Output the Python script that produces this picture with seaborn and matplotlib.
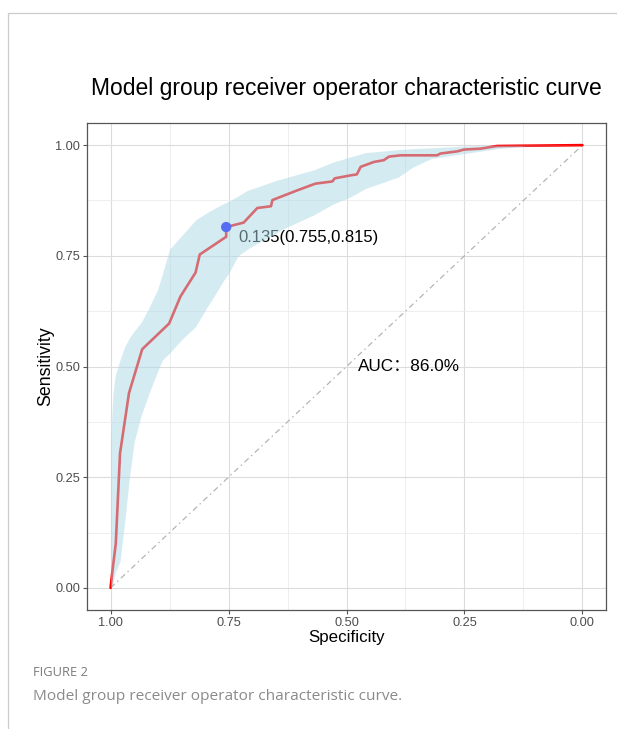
import numpy as np
import pandas as pd
import matplotlib
matplotlib.use("Agg")
import matplotlib.pyplot as plt
from matplotlib.lines import Line2D
from matplotlib.ticker import MultipleLocator
import seaborn as sns

# ---- data ----
roc_specificity = [1.0, 0.995, 0.989, 0.980, 0.961, 0.933, 0.876, 0.852, 0.820, 0.811,
                   0.755, 0.755, 0.718, 0.689, 0.660, 0.657, 0.604, 0.566, 0.530, 0.525,
                   0.490, 0.478, 0.470, 0.442, 0.421, 0.410, 0.386, 0.308, 0.301, 0.265,
                   0.251, 0.216, 0.181, 0.0]
roc_sensitivity = [0.0, 0.048, 0.100, 0.304, 0.440, 0.539, 0.597, 0.658, 0.712, 0.753,
                   0.793, 0.815, 0.825, 0.858, 0.862, 0.876, 0.898, 0.913, 0.918, 0.925,
                   0.932, 0.934, 0.951, 0.962, 0.966, 0.974, 0.977, 0.977, 0.981, 0.986,
                   0.990, 0.992, 0.998, 1.0]

ci_specificity = [1.0, 0.995, 0.99, 0.98, 0.97, 0.96, 0.95, 0.935, 0.92, 0.90, 0.89,
                  0.875, 0.85, 0.82, 0.795, 0.78, 0.76, 0.75, 0.73, 0.71, 0.69, 0.65,
                  0.64, 0.57, 0.53, 0.49, 0.46, 0.39, 0.36, 0.32, 0.25, 0.18, 0.12, 0.0]
ci_upper = [0.33, 0.44, 0.48, 0.515, 0.545, 0.565, 0.58, 0.60, 0.63, 0.675, 0.71,
            0.765, 0.795, 0.831, 0.848, 0.857, 0.868, 0.873, 0.885, 0.898, 0.905, 0.92,
            0.923, 0.944, 0.961, 0.974, 0.983, 0.99, 0.992, 0.994, 0.998, 1.0, 1.0, 1.0]
ci_lower = [0.0, 0.01, 0.035, 0.06, 0.15, 0.25, 0.33, 0.39, 0.435, 0.49, 0.515,
            0.53, 0.56, 0.59, 0.635, 0.66, 0.695, 0.71, 0.75, 0.765, 0.778, 0.80,
            0.808, 0.842, 0.866, 0.884, 0.902, 0.928, 0.95, 0.97, 0.981, 0.992, 0.998, 1.0]

best_threshold = 0.135
best_specificity = 0.755
best_sensitivity = 0.815
auc_value = 86.0

title_text = "Model group receiver operator characteristic curve"
x_label = "Specificity"
y_label = "Sensitivity"
tick_values = [0.0, 0.25, 0.5, 0.75, 1.0]
tick_labels = ["0.00", "0.25", "0.50", "0.75", "1.00"]
caption_head = "FIGURE 2"
caption_text = "Model group receiver operator characteristic curve."

roc_df = pd.DataFrame({"specificity": roc_specificity, "sensitivity": roc_sensitivity})
best_df = pd.DataFrame({"specificity": [best_specificity], "sensitivity": [best_sensitivity]})

# ---- figure ----
sns.set_theme(style="whitegrid")
plt.rcParams["font.family"] = ["Liberation Sans", "Noto Sans CJK SC", "DejaVu Sans"]

fig = plt.figure(figsize=(6.17, 7.29), dpi=100)
fig.patch.set_facecolor("white")
ax = fig.add_axes([87 / 617, 1 - 610 / 729, (606 - 87) / 617, (610 - 123) / 729])
ax.set_facecolor("white")

# diagonal reference
ax.plot([1, 0], [0, 1], color="#b5b5b5", linewidth=0.9,
        linestyle=(0, (4.5, 2.8, 1.2, 2.8)), zorder=1.5)

sns.lineplot(data=roc_df, x="specificity", y="sensitivity", sort=False,
             estimator=None, color="#ff0000", linewidth=1.9, ax=ax, zorder=2)
sns.scatterplot(data=best_df, x="specificity", y="sensitivity", color="#0000ff",
                s=55, edgecolor="none", ax=ax, zorder=3)

ax.text(0.580, 0.792, f"{best_threshold}({best_specificity},{best_sensitivity})",
        ha="center", va="center", fontsize=12.0, color="black", zorder=3)
ax.text(0.367, 0.50, f"AUC：{auc_value:.1f}%", ha="center", va="center",
        fontsize=12.3, color="black", zorder=3,
        family=["Liberation Sans", "Noto Sans CJK SC", "DejaVu Sans"])

ax.fill_between(ci_specificity, ci_lower, ci_upper, color="#add8e6", alpha=0.5,
                linewidth=0, zorder=4)

ax.set_xlim(1.05, -0.05)
ax.set_ylim(-0.05, 1.05)
ax.set_xticks(tick_values)
ax.set_xticklabels(tick_labels)
ax.set_yticks(tick_values)
ax.set_yticklabels(tick_labels)
ax.xaxis.set_minor_locator(MultipleLocator(0.125))
ax.yaxis.set_minor_locator(MultipleLocator(0.125))
ax.grid(True, which="major", color="#dcdcdc", linewidth=0.8)
ax.grid(True, which="minor", color="#ebebeb", linewidth=0.6)
ax.set_axisbelow(True)
for s in ax.spines.values():
    s.set_visible(True)
    s.set_color("#555555")
    s.set_linewidth(0.9)
ax.tick_params(axis="both", which="major", length=3, width=0.8, color="#555555",
               labelsize=9.2, labelcolor="#4d4d4d", pad=2.0, bottom=True, left=True)
ax.tick_params(axis="both", which="minor", length=0)
ax.set_xlabel(x_label, fontsize=12.2, color="black", labelpad=0.8)
ax.set_ylabel(y_label, fontsize=12.8, color="black", labelpad=0.5)

fig.text(91 / 617, 1 - 88 / 729, title_text, ha="left", va="center",
         fontsize=16.5, color="black")

# outer frame lines
fig.add_artist(Line2D([8 / 617, 1], [1 - 13 / 729, 1 - 13 / 729],
                      transform=fig.transFigure, color="#cccccc", linewidth=0.9))
fig.add_artist(Line2D([8 / 617, 8 / 617], [0, 1 - 13 / 729],
                      transform=fig.transFigure, color="#cccccc", linewidth=0.9))

fig.text(33 / 617, 1 - 673 / 729, caption_head, ha="left", va="center",
         fontsize=9.3, color="#7a7a7a", family=["Open Sans", "DejaVu Sans"])
fig.text(33 / 617, 1 - 696 / 729, caption_text, ha="left", va="center",
         fontsize=11.1, color="#8a8a8a", family=["Open Sans", "DejaVu Sans"])

fig.savefig("out.png", dpi=100, facecolor="white")
